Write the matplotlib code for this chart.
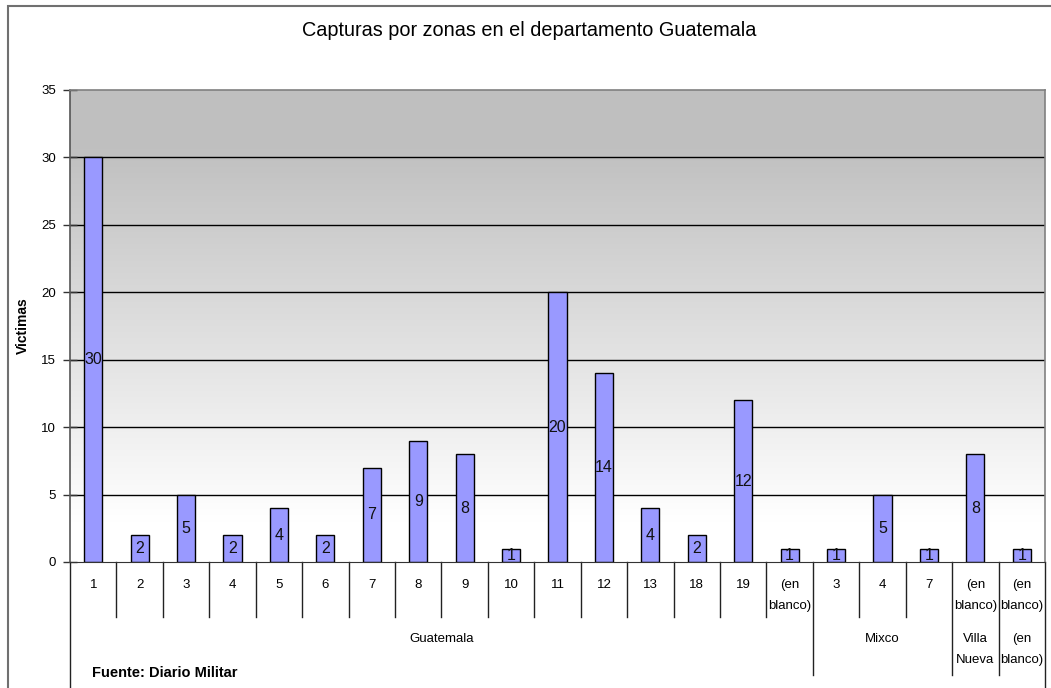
import numpy as np
import matplotlib
matplotlib.use('Agg')
import matplotlib.pyplot as plt
from matplotlib.patches import Rectangle
from matplotlib.lines import Line2D

# datos del grafico
zonas = ['1', '2', '3', '4', '5', '6', '7', '8', '9', '10', '11', '12', '13',
         '18', '19', '(en\nblanco)', '3', '4', '7', '(en\nblanco)', '(en\nblanco)']
victimas = [30, 2, 5, 2, 4, 2, 7, 9, 8, 1, 20, 14, 4, 2, 12, 1, 1, 5, 1, 8, 1]
municipios = ['Guatemala', 'Mixco', 'Villa\nNueva', '(en\nblanco)']
zonas_por_municipio = [16, 3, 1, 1]
yticks = [0, 5, 10, 15, 20, 25, 30, 35]

titulo = 'Capturas por zonas en el departamento Guatemala'
fuente = 'Fuente: Diario Militar'

W, H = 1051, 688
fig = plt.figure(figsize=(W / 100, H / 100), dpi=100)
fig.patch.set_facecolor('white')

# area del grafico en pixeles
x0, x1 = 70, 1045
ytop, ybot = 90, 562
ax = fig.add_axes([x0 / W, (H - ybot) / H, (x1 - x0) / W, (ybot - ytop) / H])

def py(p):
    # pixel (desde arriba) -> coordenada y de los ejes
    return (ybot - p) / (ybot - ytop)

n = len(zonas)
x = np.arange(n)
fnarrow = 'Liberation Sans'

# fondo degradado gris -> blanco (vertical)
grad = np.clip((np.linspace(35, 0, 300) - 3) / (31 - 3), 0, 1)
col = 1.0 - 0.25 * grad
img = np.repeat(col[:, None, None], 3, axis=2)
ax.imshow(img, extent=[-0.5, n - 0.5, 0, 35], aspect='auto', zorder=0)

for v in yticks[1:-1]:
    ax.axhline(v, color='black', lw=1.0, zorder=1)

ax.bar(x, victimas, width=0.39, color='#9999FF', edgecolor='black', lw=1.0, zorder=2)
for xi, v in zip(x, victimas):
    ax.text(xi, v / 2, str(v), ha='center', va='center', fontsize=11.5,
            family='Liberation Sans', color='#111111', zorder=3)

ax.set_xlim(-0.5, n - 0.5)
ax.set_ylim(0, 35)
ax.set_xticks([])
ax.set_yticks(yticks)
ax.set_yticklabels([str(t) for t in yticks], family=fnarrow, fontsize=9.5)
ax.tick_params(axis='y', direction='inout', length=10, width=1, color='#333333', pad=5)
for s in ['top', 'right']:
    ax.spines[s].set_color('#808080')
    ax.spines[s].set_linewidth(1.2)
ax.spines['left'].set_color('#555555')
ax.spines['bottom'].set_color('#333333')
ax.spines['left'].set_linewidth(1.2)

ax.set_ylabel('Victimas', fontsize=10, fontweight='bold', family='Liberation Sans')
ax.yaxis.set_label_coords((30 - x0) / (x1 - x0), 0.5)

# eje de categorias con dos niveles
lines_kw = dict(color='#222222', lw=1.0, transform=ax.get_xaxis_transform(), clip_on=False)
limites = np.cumsum(zonas_por_municipio)
for b in range(1, n):
    bajo = 675 if b in limites else 617
    ax.add_line(Line2D([b - 0.5, b - 0.5], [py(ybot), py(bajo)], **lines_kw))
ax.add_line(Line2D([-0.5, -0.5], [py(ybot), py(H)], **lines_kw))
ax.add_line(Line2D([n - 0.5, n - 0.5], [py(ybot), py(H)], **lines_kw))

for xi, z in zip(x, zonas):
    ax.text(xi, py(579), z, ha='center', va='top', fontsize=9.5, linespacing=1.95,
            family=fnarrow, transform=ax.get_xaxis_transform())

inicio = 0
for m, k in zip(municipios, zonas_por_municipio):
    centro = inicio + (k - 1) / 2
    ax.text(centro, py(633), m, ha='center', va='top', fontsize=9.5, linespacing=1.95,
            family=fnarrow, transform=ax.get_xaxis_transform())
    inicio += k

fig.text(0.5035, 1 - 31 / H, titulo, ha='center', va='center', fontsize=14.3,
         family='Liberation Sans')
fig.text(92 / W, 1 - 673 / H, fuente, ha='left', va='center', fontsize=10.5,
         fontweight='bold', family='Liberation Sans')

# borde del grafico
fig.patches.append(Rectangle((8 / W, -0.05), 1.1, 1 - 6 / H + 0.05, transform=fig.transFigure,
                             fill=False, edgecolor='#707070', lw=1.5))

fig.savefig('out.png', dpi=100)
